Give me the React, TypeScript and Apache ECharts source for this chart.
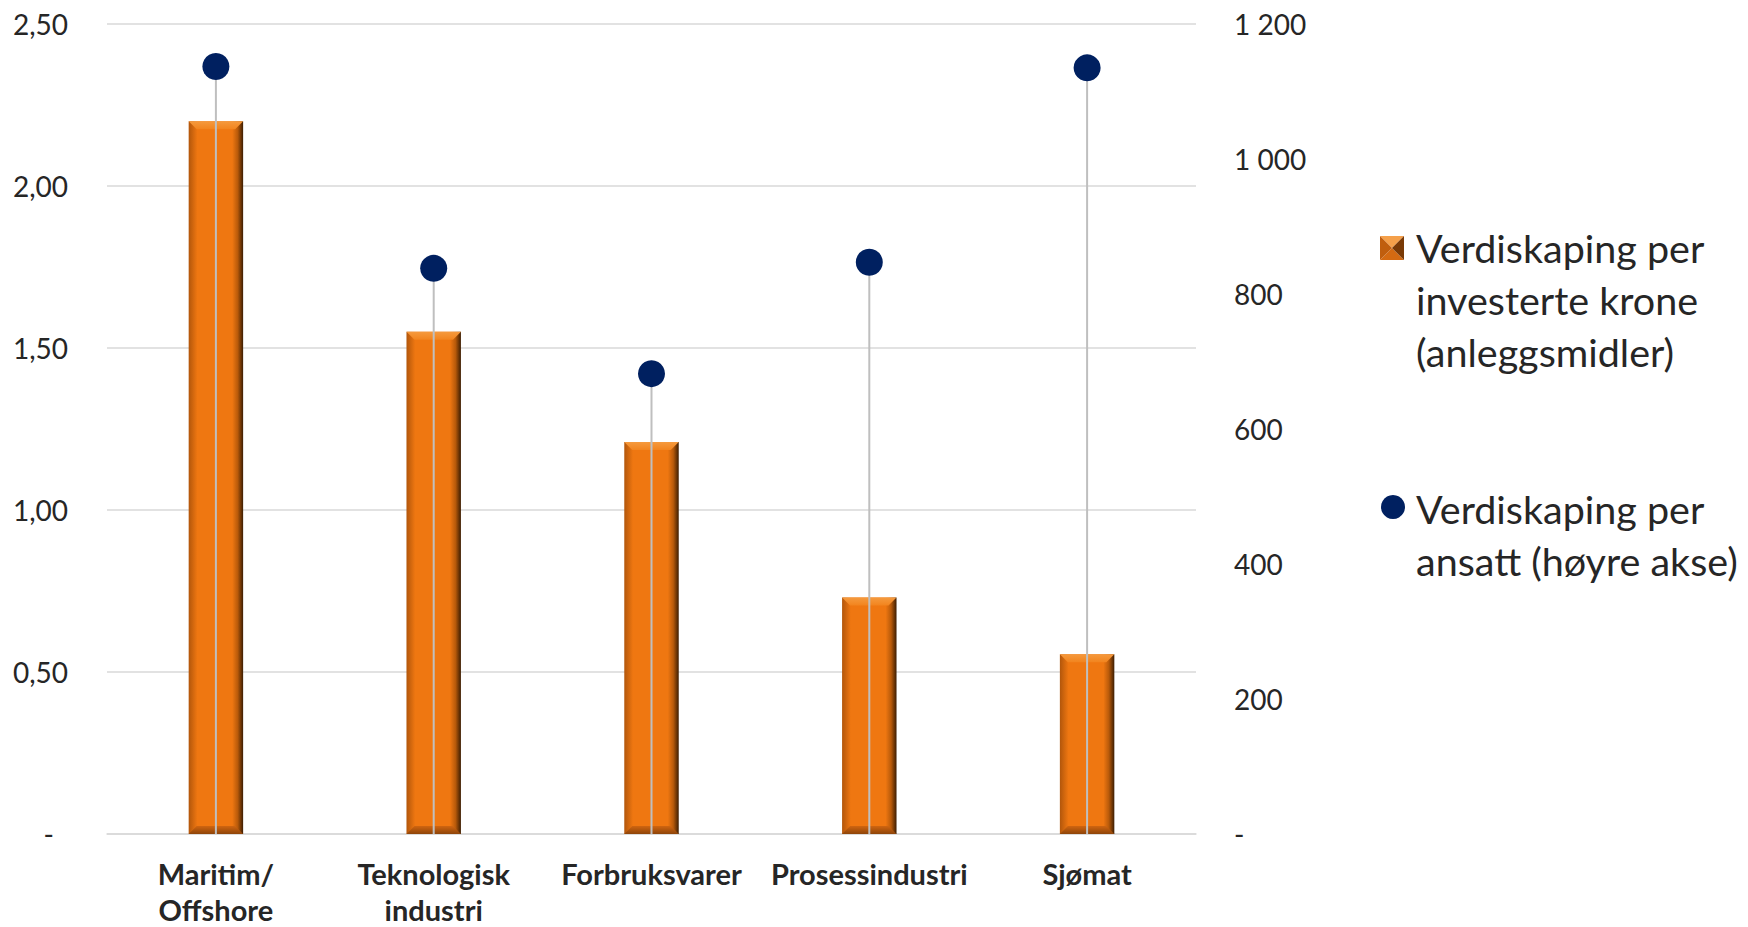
import React, { useEffect, useRef } from "react";
import * as echarts from "echarts";

const categories = ["Maritim/\nOffshore", "Teknologisk\nindustri", "Forbruksvarer", "Prosessindustri", "Sjømat"];
const perKrone = [2.2, 1.55, 1.21, 0.73, 0.555];
const perAnsatt = [1137, 838, 682, 847, 1135];
const legendBar = ["Verdiskaping per", "investerte krone", "(anleggsmidler)"];
const legendDot = ["Verdiskaping per", "ansatt (høyre akse)"];

const FONT = "Lato";
const TEXT = "#262626";

export default function App() {
  const ref = useRef<HTMLDivElement>(null);
  useEffect(() => {
    document.body.style.margin = "0";
    document.documentElement.style.overflow = "hidden";
    const chart = echarts.init(ref.current!, undefined, { renderer: "svg" });
    const barRender = (params: any, api: any) => {
      const i = api.value(0);
      const v = api.value(1);
      const top = api.coord([i, v]);
      const base = api.coord([i, 0]);
      const w = api.size([1, 0])[0] * 0.25;
      const x0 = top[0] - w / 2;
      const x1 = top[0] + w / 2;
      const y0 = top[1];
      const y1 = base[1];
      const b = 8;
      return {
        type: "group",
        children: [
          {
            type: "rect",
            shape: { x: x0, y: y0, width: w, height: y1 - y0 },
            style: {
              fill: new echarts.graphic.LinearGradient(0, 0, 1, 0, [
                { offset: 0, color: "#B2560B" },
                { offset: 0.16, color: "#EF7711" },
                { offset: 0.8, color: "#EF7711" },
                { offset: 0.9, color: "#B85A0A" },
                { offset: 1, color: "#3C1D02" },
              ]),
            },
          },
          {
            type: "polygon",
            shape: { points: [[x0, y0], [x1, y0], [x1 - b, y0 + b], [x0 + b, y0 + b]] },
            style: {
              fill: new echarts.graphic.LinearGradient(0, 0, 0, 1, [
                { offset: 0, color: "#F59A3E" },
                { offset: 1, color: "#F2841E" },
              ]),
            },
          },
          {
            type: "polygon",
            shape: { points: [[x0, y1], [x1, y1], [x1 - b, y1 - b], [x0 + b, y1 - b]] },
            style: {
              fill: new echarts.graphic.LinearGradient(0, 0, 0, 1, [
                { offset: 0, color: "#D06510" },
                { offset: 1, color: "#8E450A" },
              ]),
            },
          },
        ],
      };
    };
    const lineRender = (params: any, api: any) => {
      const i = api.value(0);
      const v = api.value(1);
      const top = api.coord([i, v]);
      const base = api.coord([i, 0]);
      return {
        type: "line",
        shape: { x1: top[0], y1: top[1], x2: base[0], y2: base[1] },
        style: { stroke: "#BFBFBF", lineWidth: 2 },
      };
    };
    const legendX = 1416;
    const lh = 52;
    const fontSize = 39.5;
    const ix = 1380, iy = 236, is = 24, ic = is / 2;
    const graphics: any[] = [
      {
        type: "polygon",
        shape: { points: [[ix, iy], [ix + is, iy], [ix + ic, iy + ic]] },
        style: { fill: "#F5A04A" },
      },
      {
        type: "polygon",
        shape: { points: [[ix, iy + is], [ix + is, iy + is], [ix + ic, iy + ic]] },
        style: { fill: "#D46A12" },
      },
      {
        type: "polygon",
        shape: { points: [[ix, iy], [ix, iy + is], [ix + ic, iy + ic]] },
        style: { fill: "#C05E0E" },
      },
      {
        type: "polygon",
        shape: { points: [[ix + is, iy], [ix + is, iy + is], [ix + ic, iy + ic]] },
        style: { fill: "#7A3A06" },
      },
      {
        type: "text",
        x: legendX,
        y: 247 - lh / 2,
        style: {
          text: legendBar.join("\n"),
          font: `${fontSize}px ${FONT}`,
          fill: TEXT,
          lineHeight: lh,
          textVerticalAlign: "top",
        },
      },
      {
        type: "circle",
        shape: { cx: 1393, cy: 507, r: 12 },
        style: { fill: "#002060" },
      },
      {
        type: "text",
        x: legendX,
        y: 508 - lh / 2,
        style: {
          text: legendDot.join("\n"),
          font: `${fontSize}px ${FONT}`,
          fill: TEXT,
          lineHeight: lh,
          textVerticalAlign: "top",
        },
      },
    ];
    chart.setOption({
      animation: false,
      grid: { left: 107, right: 552, top: 24, bottom: 93, containLabel: false, outerBoundsMode: "none" },
      xAxis: {
        type: "category",
        data: categories,
        axisLine: { show: true, lineStyle: { color: "#D9D9D9", width: 1.5 } },
        axisTick: { show: false },
        axisLabel: {
          color: TEXT,
          fontFamily: FONT,
          fontWeight: "bold",
          fontSize: 29,
          lineHeight: 36,
          margin: 21,
          interval: 0,
        },
      },
      yAxis: [
        {
          type: "value",
          min: 0,
          max: 2.5,
          interval: 0.5,
          axisLine: { show: false },
          axisTick: { show: false },
          splitLine: { lineStyle: { color: "#D9D9D9", width: 1.5 } },
          axisLabel: {
            color: TEXT,
            fontFamily: FONT,
            fontSize: 28,
            margin: 39,
            formatter: (v: number) => (v === 0 ? "{d|-}" : v.toFixed(2).replace(".", ",")),
            rich: { d: { fontFamily: FONT, fontSize: 28, color: TEXT, padding: [0, 14, 0, 0] } },
          },
        },
        {
          type: "value",
          min: 0,
          max: 1200,
          interval: 200,
          position: "right",
          axisLine: { show: false },
          axisTick: { show: false },
          splitLine: { show: false },
          axisLabel: {
            color: TEXT,
            fontFamily: FONT,
            fontSize: 28,
            margin: 38,
            formatter: (v: number) =>
              v === 0 ? "-" : String(v).replace(/\B(?=(\d{3})+(?!\d))/g, " "),
          },
        },
      ],
      series: [
        {
          name: "Verdiskaping per investerte krone (anleggsmidler)",
          type: "custom",
          renderItem: barRender,
          encode: { x: 0, y: 1 },
          data: perKrone.map((v, i) => [i, v]),
          z: 2,
        },
        {
          name: "drop",
          type: "custom",
          yAxisIndex: 1,
          renderItem: lineRender,
          encode: { x: 0, y: 1 },
          data: perAnsatt.map((v, i) => [i, v]),
          z: 3,
        },
        {
          name: "Verdiskaping per ansatt (høyre akse)",
          type: "scatter",
          yAxisIndex: 1,
          data: perAnsatt.map((v, i) => [i, v]),
          symbolSize: 27,
          itemStyle: { color: "#002060", opacity: 1 },
          z: 4,
        },
      ],
      graphic: graphics,
    });
    return () => chart.dispose();
  }, []);
  return <div ref={ref} style={{ width: 1748, height: 927 }} />;
}
